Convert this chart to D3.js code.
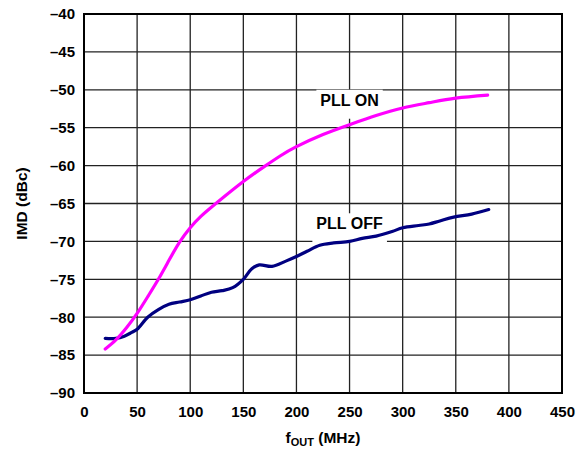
<!DOCTYPE html>
<html lang="en">
<head>
<meta charset="UTF-8">
<title>IMD vs fOUT</title>
<style>
  body, html { margin: 0; padding: 0; background: #fff; }
  svg { display: block; font-family: "Liberation Sans", Arial, sans-serif; font-weight: bold; }
</style>
</head>
<body>
<script src="https://d3js.org/d3.v7.min.js"></script>
<script>
// chart data
var xTicks = [0, 50, 100, 150, 200, 250, 300, 350, 400, 450];
var yTicks = [-40, -45, -50, -55, -60, -65, -70, -75, -80, -85, -90];

var pllOnX = [20, 30, 40, 50, 60, 70, 80, 90, 100, 110, 125, 150, 170, 185, 200, 225, 250, 275, 300, 325, 350, 380];
var pllOnY = [-84.2, -83.0, -81.4, -79.5, -77.3, -75.0, -72.5, -70.1, -68.2, -66.7, -64.9, -62.1, -60.1, -58.7, -57.5, -55.9, -54.6, -53.4, -52.4, -51.7, -51.1, -50.7];

var pllOffX = [20, 30, 38, 45, 50, 60, 70, 80, 90, 100, 110, 120, 130, 140, 150, 158, 165, 177, 190, 200, 210, 222, 235, 250, 262, 275, 290, 300, 315, 325, 335, 348, 365, 381];
var pllOffY = [-82.8, -82.8, -82.5, -82.0, -81.6, -80.0, -79.0, -78.3, -78.0, -77.7, -77.2, -76.7, -76.5, -76.1, -75.0, -73.6, -73.1, -73.3, -72.6, -72.0, -71.3, -70.5, -70.2, -70.0, -69.6, -69.3, -68.7, -68.2, -67.9, -67.7, -67.3, -66.8, -66.4, -65.8];

var width = 583, height = 451;
var margin = {top: 14, right: 21, bottom: 58, left: 84};
var w = width - margin.left - margin.right,
    h = height - margin.top - margin.bottom;

var svg = d3.select("body").append("svg")
    .attr("width", width)
    .attr("height", height);

var g = svg.append("g").attr("transform", "translate(" + margin.left + "," + margin.top + ")");

var x = d3.scaleLinear().domain([0, 450]).range([0, w]);
var y = d3.scaleLinear().domain([-90, -40]).range([h, 0]);

function fmt(d) { return d < 0 ? "\u2013" + Math.abs(d) : "" + d; }

// grid
g.append("g").selectAll("line").data(xTicks).enter().append("line")
    .attr("x1", function(d) { return x(d); }).attr("x2", function(d) { return x(d); })
    .attr("y1", 0).attr("y2", h)
    .attr("stroke", "#222").attr("stroke-width", 1.3);
g.append("g").selectAll("line").data(yTicks).enter().append("line")
    .attr("x1", 0).attr("x2", w)
    .attr("y1", function(d) { return y(d); }).attr("y2", function(d) { return y(d); })
    .attr("stroke", "#222").attr("stroke-width", 1.3);

// y tick labels
var yAxis = g.append("g")
    .call(d3.axisLeft(y).tickValues(yTicks).tickSize(0).tickPadding(9).tickFormat(fmt));
yAxis.select(".domain").remove();
yAxis.selectAll("text").attr("font-size", 15).attr("font-weight", "bold")
    .attr("font-family", "'Liberation Sans', Arial, sans-serif").attr("fill", "#000");

// white boxes behind curve labels (hide grid, sit under the curves)
var boxes = g.append("g");

// frame
g.append("rect").attr("x", 0).attr("y", 0).attr("width", w).attr("height", h)
    .attr("fill", "none").attr("stroke", "#000").attr("stroke-width", 2);

// curves
function lineWith(curve) {
    return d3.line()
        .x(function(d) { return x(d[0]); })
        .y(function(d) { return y(d[1]); })
        .curve(curve);
}

g.append("path").datum(d3.zip(pllOffX, pllOffY))
    .attr("d", lineWith(d3.curveCatmullRom.alpha(0.5))).attr("fill", "none")
    .attr("stroke", "#000080").attr("stroke-width", 3.2).attr("stroke-linecap", "round");

g.append("path").datum(d3.zip(pllOnX, pllOnY))
    .attr("d", lineWith(d3.curveNatural)).attr("fill", "none")
    .attr("stroke", "#ff00ff").attr("stroke-width", 3.2).attr("stroke-linecap", "round");

function label(txt, cx, base) {
    var t = g.append("text").attr("x", cx).attr("y", base)
        .attr("text-anchor", "middle").attr("font-size", 16).text(txt);
    var b = t.node().getBBox();
    boxes.append("rect").attr("fill", "#fff")
        .attr("x", b.x - 4).attr("y", base - 16)
        .attr("width", b.width + 8).attr("height", 29);
}
label("PLL ON", x(250), y(-52.1));
label("PLL OFF", x(250), y(-68.4));

// axis titles
var xt = svg.append("text")
    .attr("x", margin.left + x(225)).attr("y", 443)
    .attr("text-anchor", "middle").attr("font-size", 15.5);
xt.append("tspan").text("f");
xt.append("tspan").attr("font-size", 11).attr("dy", 3).text("OUT");
xt.append("tspan").attr("dy", -3).text(" (MHz)");

svg.append("text")
    .attr("transform", "translate(27," + (margin.top + h / 2) + ") rotate(-90)")
    .attr("text-anchor", "middle").attr("font-size", 15.5).text("IMD (dBc)");

// x tick labels
var xAxis = svg.append("g")
    .attr("transform", "translate(" + margin.left + "," + (margin.top + h) + ")")
    .call(d3.axisBottom(x).tickValues(xTicks).tickSize(0).tickPadding(13).tickFormat(fmt));
xAxis.select(".domain").remove();
xAxis.selectAll("text").attr("font-size", 15).attr("font-weight", "bold")
    .attr("font-family", "'Liberation Sans', Arial, sans-serif").attr("fill", "#000");
</script>
</body>
</html>
